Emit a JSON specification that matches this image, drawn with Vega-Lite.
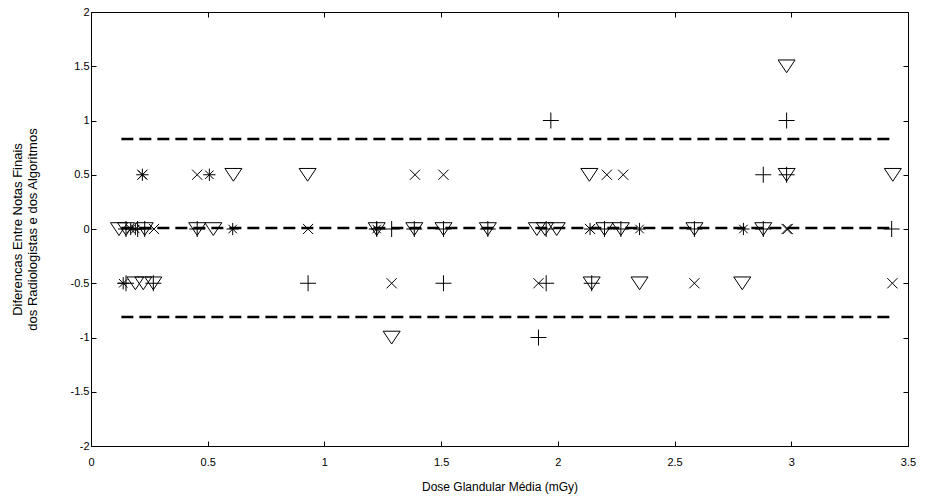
{
  "$schema": "https://vega.github.io/schema/vega-lite/v6.json",
  "autosize": "none",
  "width": 817,
  "height": 434,
  "padding": {"left": 91, "top": 12, "right": 24, "bottom": 53},
  "background": "white",
  "config": {
    "view": {"stroke": "#000", "strokeWidth": 1},
    "axis": {
      "domain": false,
      "grid": false,
      "ticks": true,
      "tickSize": -5,
      "tickColor": "#000",
      "labelFlush": false,
      "labelFont": "Liberation Sans",
      "labelFontSize": 11,
      "labelColor": "#000",
      "titleFont": "Liberation Sans",
      "titleFontSize": 12,
      "titleFontWeight": "normal",
      "titleColor": "#000"
    }
  },
  "datasets": {
    "pontos": [
      {"dose": 1.97, "dif": 1, "serie": "A"},
      {"dose": 2.98, "dif": 1, "serie": "A"},
      {"dose": 2.88, "dif": 0.5, "serie": "A"},
      {"dose": 2.98, "dif": 0.5, "serie": "A"},
      {"dose": 0.15, "dif": 0, "serie": "A"},
      {"dose": 0.2, "dif": 0, "serie": "A"},
      {"dose": 0.23, "dif": 0, "serie": "A"},
      {"dose": 0.455, "dif": 0, "serie": "A"},
      {"dose": 1.224, "dif": 0, "serie": "A"},
      {"dose": 1.288, "dif": 0, "serie": "A"},
      {"dose": 1.385, "dif": 0, "serie": "A"},
      {"dose": 1.51, "dif": 0, "serie": "A"},
      {"dose": 1.7, "dif": 0, "serie": "A"},
      {"dose": 1.95, "dif": 0, "serie": "A"},
      {"dose": 2.2, "dif": 0, "serie": "A"},
      {"dose": 2.27, "dif": 0, "serie": "A"},
      {"dose": 2.585, "dif": 0, "serie": "A"},
      {"dose": 2.88, "dif": 0, "serie": "A"},
      {"dose": 3.43, "dif": 0, "serie": "A"},
      {"dose": 0.15, "dif": -0.5, "serie": "A"},
      {"dose": 0.267, "dif": -0.5, "serie": "A"},
      {"dose": 0.93, "dif": -0.5, "serie": "A"},
      {"dose": 1.51, "dif": -0.5, "serie": "A"},
      {"dose": 1.95, "dif": -0.5, "serie": "A"},
      {"dose": 2.145, "dif": -0.5, "serie": "A"},
      {"dose": 1.917, "dif": -1, "serie": "A"},

      {"dose": 0.22, "dif": 0.5, "serie": "B"},
      {"dose": 0.455, "dif": 0.5, "serie": "B"},
      {"dose": 1.388, "dif": 0.5, "serie": "B"},
      {"dose": 1.51, "dif": 0.5, "serie": "B"},
      {"dose": 2.21, "dif": 0.5, "serie": "B"},
      {"dose": 2.28, "dif": 0.5, "serie": "B"},
      {"dose": 0.27, "dif": 0, "serie": "B"},
      {"dose": 0.93, "dif": 0, "serie": "B"},
      {"dose": 2.138, "dif": 0, "serie": "B"},
      {"dose": 2.98, "dif": 0, "serie": "B"},
      {"dose": 2.985, "dif": 0, "serie": "B"},
      {"dose": 1.288, "dif": -0.5, "serie": "B"},
      {"dose": 1.917, "dif": -0.5, "serie": "B"},
      {"dose": 2.585, "dif": -0.5, "serie": "B"},
      {"dose": 3.433, "dif": -0.5, "serie": "B"},

      {"dose": 0.22, "dif": 0.5, "serie": "C"},
      {"dose": 0.507, "dif": 0.5, "serie": "C"},
      {"dose": 0.17, "dif": 0, "serie": "C"},
      {"dose": 0.19, "dif": 0, "serie": "C"},
      {"dose": 0.607, "dif": 0, "serie": "C"},
      {"dose": 1.224, "dif": 0, "serie": "C"},
      {"dose": 2.138, "dif": 0, "serie": "C"},
      {"dose": 2.35, "dif": 0, "serie": "C"},
      {"dose": 2.795, "dif": 0, "serie": "C"},
      {"dose": 0.138, "dif": -0.5, "serie": "C"},

      {"dose": 2.98, "dif": 1.5, "serie": "D"},
      {"dose": 0.61, "dif": 0.5, "serie": "D"},
      {"dose": 0.928, "dif": 0.5, "serie": "D"},
      {"dose": 2.135, "dif": 0.5, "serie": "D"},
      {"dose": 2.98, "dif": 0.5, "serie": "D"},
      {"dose": 3.435, "dif": 0.5, "serie": "D"},
      {"dose": 0.12, "dif": 0, "serie": "D"},
      {"dose": 0.15, "dif": 0, "serie": "D"},
      {"dose": 0.23, "dif": 0, "serie": "D"},
      {"dose": 0.455, "dif": 0, "serie": "D"},
      {"dose": 0.524, "dif": 0, "serie": "D"},
      {"dose": 1.224, "dif": 0, "serie": "D"},
      {"dose": 1.385, "dif": 0, "serie": "D"},
      {"dose": 1.51, "dif": 0, "serie": "D"},
      {"dose": 1.7, "dif": 0, "serie": "D"},
      {"dose": 1.91, "dif": 0, "serie": "D"},
      {"dose": 1.945, "dif": 0, "serie": "D"},
      {"dose": 1.995, "dif": 0, "serie": "D"},
      {"dose": 2.2, "dif": 0, "serie": "D"},
      {"dose": 2.27, "dif": 0, "serie": "D"},
      {"dose": 2.585, "dif": 0, "serie": "D"},
      {"dose": 2.88, "dif": 0, "serie": "D"},
      {"dose": 0.19, "dif": -0.5, "serie": "D"},
      {"dose": 0.224, "dif": -0.5, "serie": "D"},
      {"dose": 0.267, "dif": -0.5, "serie": "D"},
      {"dose": 2.145, "dif": -0.5, "serie": "D"},
      {"dose": 2.35, "dif": -0.5, "serie": "D"},
      {"dose": 2.79, "dif": -0.5, "serie": "D"},
      {"dose": 1.288, "dif": -1, "serie": "D"}
    ],
    "limites": [
      {"ini": 0.13, "fim": 3.435, "nivel": 0.83},
      {"ini": 0.13, "fim": 3.435, "nivel": 0.01},
      {"ini": 0.13, "fim": 3.435, "nivel": -0.81}
    ]
  },
  "layer": [
    {
      "data": {"name": "limites"},
      "mark": {"type": "rule", "stroke": "#000", "strokeWidth": 2.5, "strokeDash": [12, 6]},
      "encoding": {
        "x": {
          "field": "ini", "type": "quantitative",
          "scale": {"domain": [0, 3.5], "nice": false, "zero": false},
          "axis": {"orient": "top", "labels": false, "title": null, "values": [0, 0.5, 1, 1.5, 2, 2.5, 3, 3.5]}
        },
        "x2": {"field": "fim"},
        "y": {
          "field": "nivel", "type": "quantitative",
          "scale": {"domain": [-2, 2], "nice": false, "zero": false},
          "axis": {"orient": "right", "labels": false, "title": null, "values": [-2, -1.5, -1, -0.5, 0, 0.5, 1, 1.5, 2]}
        }
      }
    },
    {
      "data": {"name": "pontos"},
      "mark": {"type": "point", "filled": false, "stroke": "#000", "strokeWidth": 1, "opacity": 1, "size": 289},
      "encoding": {
        "x": {
          "field": "dose", "type": "quantitative",
          "scale": {"domain": [0, 3.5], "nice": false, "zero": false},
          "axis": {
            "orient": "bottom",
            "title": "Dose Glandular Média (mGy)",
            "values": [0, 0.5, 1, 1.5, 2, 2.5, 3, 3.5],
            "labelExpr": "'' + datum.value",
            "labelPadding": 15,
            "titlePadding": 14
          }
        },
        "y": {
          "field": "dif", "type": "quantitative",
          "scale": {"domain": [-2, 2], "nice": false, "zero": false},
          "axis": {
            "orient": "left",
            "title": ["Diferencas Entre Notas Finais", "dos Radiologistas e dos Algoritmos"],
            "titleFontSize": 13,
            "titleLineHeight": 15,
            "values": [-2, -1.5, -1, -0.5, 0, 0.5, 1, 1.5, 2],
            "labelExpr": "'' + datum.value",
            "labelPadding": 7,
            "titlePadding": 31
          }
        },
        "shape": {
          "field": "serie", "type": "nominal", "legend": null,
          "scale": {
            "domain": ["A", "B", "C", "D"],
            "range": [
              "M-0.94,0H0.94M0,-0.94V0.94",
              "M-0.6,-0.6L0.6,0.6M-0.6,0.6L0.6,-0.6",
              "M-0.72,0H0.72M0,-0.72V0.72M-0.5,-0.5L0.5,0.5M-0.5,0.5L0.5,-0.5",
              "M-1,-0.74L1,-0.74L0,0.76Z"
            ]
          }
        }
      }
    }
  ],
  "resolve": {"axis": {"x": "independent", "y": "independent"}}
}
